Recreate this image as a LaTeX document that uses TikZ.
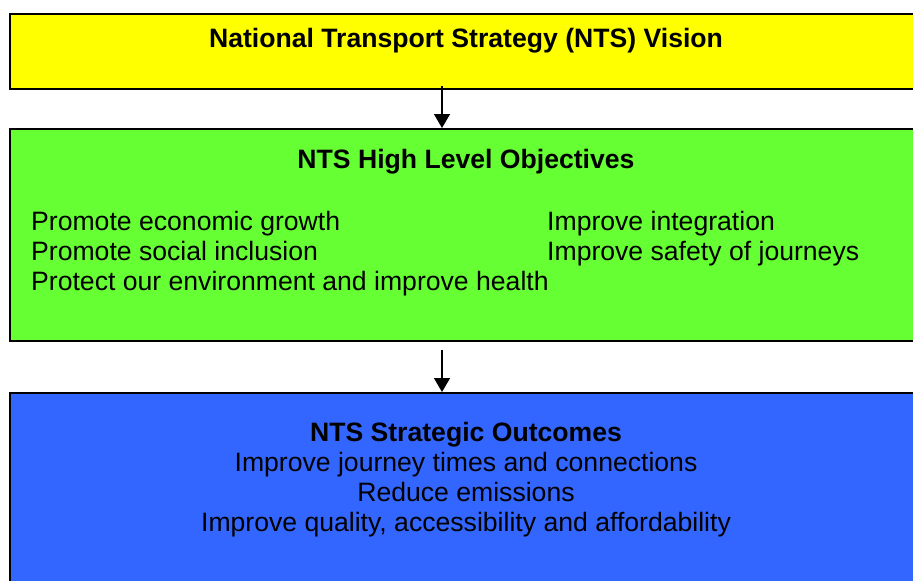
\documentclass[tikz,border=0pt]{standalone}
\usepackage{fontspec}
\setmainfont{Liberation Sans}
\usetikzlibrary{arrows.meta}

\definecolor{visionyellow}{HTML}{FFFF00}
\definecolor{objgreen}{HTML}{66FF33}
\definecolor{outcomeblue}{HTML}{3366FF}

\tikzset{
  box/.style={draw=black, line width=2pt, inner sep=0pt, minimum width=912pt},
  txt/.style={inner sep=0pt, anchor=base, font=\fontsize{26.6}{30}\selectfont},
  hdr/.style={txt, font=\fontsize{26.6}{30}\selectfont\bfseries},
  arr/.style={line width=1.5pt, -{Triangle[width=16pt,length=14pt]}}
}

\begin{document}
\begin{tikzpicture}[x=1pt,y=-1pt]
    \clip (0,0) rectangle (913,581);
    \fill[white] (0,0) rectangle (913,581);

    % the three boxes
    \node[box, fill=visionyellow, minimum height=75pt] (vision) at (466,51.5) {};
    \node[box, fill=objgreen, minimum height=212pt] (objectives) at (466,235) {};
    \node[box, fill=outcomeblue, minimum height=212pt] (outcomes) at (466,499) {};

    % headings
    \node[hdr] (visiontitle) at (466,47.5) {National Transport Strategy (NTS) Vision};
    \node[hdr] (objtitle) at (466,168.5) {NTS High Level Objectives};
    \node[hdr] (outtitle) at (466,441.5) {NTS Strategic Outcomes};

    % objectives, two columns
    \node[txt, anchor=base west] (objA) at (31,230.5) {Promote economic growth};
    \node[txt, anchor=base west] (objB) at (31,260.5) {Promote social inclusion};
    \node[txt, anchor=base west] (objC) at (31,290.5) {Protect our environment and improve health};
    \node[txt, anchor=base west] (objD) at (547,230.5) {Improve integration};
    \node[txt, anchor=base west] (objE) at (547,260.5) {Improve safety of journeys};

    % outcomes
    \node[txt] (outA) at (466,471.5) {Improve journey times and connections};
    \node[txt] (outB) at (466,501.5) {Reduce emissions};
    \node[txt] (outC) at (466,531.5) {Improve quality, accessibility and affordability};

    \draw[arr] ([xshift=-24pt,yshift=4pt]vision.south) -- ([xshift=-24pt]objectives.north);
    \draw[arr] ([xshift=-24pt,yshift=-8pt]objectives.south) -- ([xshift=-24pt]outcomes.north);
\end{tikzpicture}
\end{document}
